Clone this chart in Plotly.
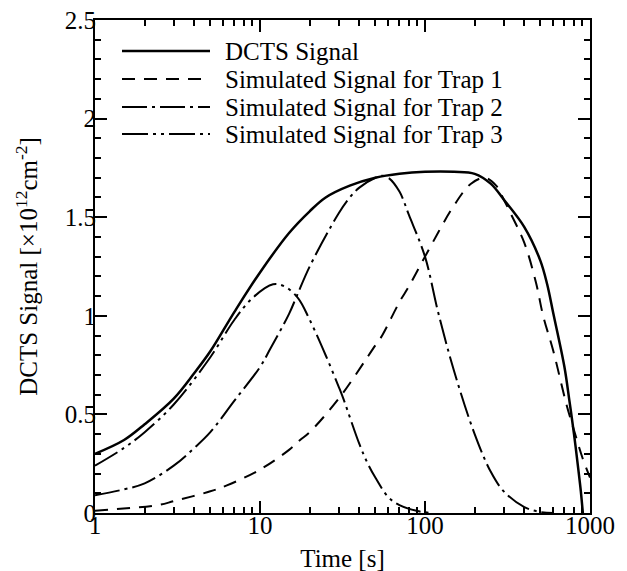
import plotly.graph_objects as go

# ---- data ----
dcts_t = [1, 1.5, 2, 3, 4, 5, 7, 10, 15, 20, 25, 35, 50, 70, 100, 150, 200, 250, 300,
          400, 500, 550, 600, 700, 750, 800, 850, 880, 905]
dcts_v = [0.30, 0.37, 0.45, 0.58, 0.71, 0.82, 1.02, 1.22, 1.42, 1.53, 1.60, 1.66, 1.70,
          1.72, 1.73, 1.73, 1.72, 1.67, 1.59, 1.45, 1.28, 1.16, 1.01, 0.74, 0.57, 0.40,
          0.22, 0.11, 0.0]

trap1_t = [1, 2.4, 3, 5, 6.3, 10, 15, 17.5, 20, 30, 50, 55, 70, 80, 100, 150, 190, 230,
           270, 300, 330, 400, 470, 520, 600, 720, 800, 900, 1000]
trap1_v = [0.012, 0.04, 0.06, 0.11, 0.14, 0.22, 0.32, 0.37, 0.41, 0.58, 0.85, 0.90, 1.07,
           1.15, 1.30, 1.56, 1.67, 1.70, 1.66, 1.59, 1.52, 1.37, 1.17, 1.00, 0.82, 0.55,
           0.42, 0.28, 0.18]

trap2_t = [1, 1.5, 2, 3, 4, 5, 7, 10, 11.5, 15, 16.7, 20, 30, 35, 40, 50, 55, 60, 70, 80,
           100, 120, 150, 200, 250, 300, 400, 500, 600]
trap2_v = [0.09, 0.12, 0.15, 0.24, 0.33, 0.41, 0.57, 0.74, 0.83, 1.01, 1.10, 1.25, 1.52,
           1.60, 1.65, 1.70, 1.71, 1.70, 1.63, 1.51, 1.30, 1.02, 0.72, 0.40, 0.21, 0.11,
           0.03, 0.005, 0.0]

trap3_t = [1, 1.5, 2, 3, 5, 7, 9, 12, 14, 17, 20, 25, 30, 32, 40, 45, 50, 60, 70, 90, 110]
trap3_v = [0.24, 0.33, 0.41, 0.55, 0.79, 0.98, 1.09, 1.16, 1.15, 1.09, 0.98, 0.80, 0.64,
           0.58, 0.35, 0.25, 0.18, 0.08, 0.04, 0.01, 0.0]

legend_labels = ["DCTS Signal", "Simulated Signal for Trap 1",
                 "Simulated Signal for Trap 2", "Simulated Signal for Trap 3"]

FONT = "Liberation Serif"
FS = 25
styles = [
    dict(width=2.5, dash="solid"),
    dict(width=2, dash="13px,9px"),
    dict(width=2, dash="25px,5px,3px,5px"),
    dict(width=2, dash="26px,5px,3px,5px,3px,5px"),
]

fig = go.Figure()
series = [(dcts_t, dcts_v), (trap1_t, trap1_v), (trap2_t, trap2_v), (trap3_t, trap3_v)]
for (t, v), st, name in zip(series, styles, legend_labels):
    fig.add_trace(go.Scatter(x=t, y=v, mode="lines", name=name, line_shape="spline",
                             line=dict(color="black", **st), showlegend=False))

# page body adds an 8px offset; margins compensate so the plot box sits where the reference has it
W, H = 627, 571
OFF = 8
L, R, T, B = 95 - OFF, 37 + OFF, 20 - OFF, 58 + OFF
pw, ph = W - L - R, H - T - B
rows_px = [51, 79, 107, 134]          # screen rows of the legend entries
for py, st, name in zip(rows_px, styles, legend_labels):
    yp = (513 - py) / ph
    fig.add_shape(type="line", xref="paper", yref="paper",
                  x0=(122 - 95) / pw, x1=(210 - 95) / pw, y0=yp, y1=yp,
                  line=dict(color="black", **st))
    fig.add_annotation(xref="paper", yref="paper", x=(223 - 95) / pw, y=yp,
                       xanchor="left", yanchor="middle", text=name, showarrow=False,
                       font=dict(family=FONT, size=FS, color="black"))

minor_x = [m * 10 ** k for k in range(3) for m in range(2, 10)]

fig.update_xaxes(type="log", range=[0, 3], tickvals=[1, 10, 100, 1000],
                 ticktext=["1", "10", "100", "1000"],
                 ticks="inside", ticklen=12, tickwidth=2, tickcolor="black",
                 minor=dict(tickvals=minor_x, ticks="inside", ticklen=6, tickwidth=2,
                            tickcolor="black", showgrid=False),
                 showline=True, linewidth=2, linecolor="black", mirror="allticks",
                 showgrid=False, zeroline=False, automargin=False,
                 ticklabelstandoff=-11, ticklabeloverflow="allow",
                 tickfont=dict(family=FONT, size=FS, color="black"),
                 title=dict(text="Time [s]", font=dict(family=FONT, size=FS, color="black"),
                            standoff=11))
fig.update_yaxes(range=[0, 2.5], dtick=0.5, tick0=0,
                 ticks="inside", ticklen=12, tickwidth=2, tickcolor="black",
                 minor=dict(dtick=0.1, ticks="inside", ticklen=6, tickwidth=2,
                            tickcolor="black", showgrid=False),
                 showline=True, linewidth=2, linecolor="black", mirror="allticks",
                 showgrid=False, zeroline=False, automargin=False,
                 ticklabelstandoff=-8, ticklabeloverflow="allow",
                 tickfont=dict(family=FONT, size=FS, color="black"),
                 title=dict(text="DCTS Signal [×10<sup>12</sup>cm<sup>-2</sup>]",
                            font=dict(family=FONT, size=FS, color="black"), standoff=20))

fig.update_layout(width=W, height=H, margin=dict(l=L, r=R, t=T, b=B, pad=0),
                  paper_bgcolor="white", plot_bgcolor="white", showlegend=False,
                  font=dict(family=FONT, color="black"))

fig.write_html("out.html")
